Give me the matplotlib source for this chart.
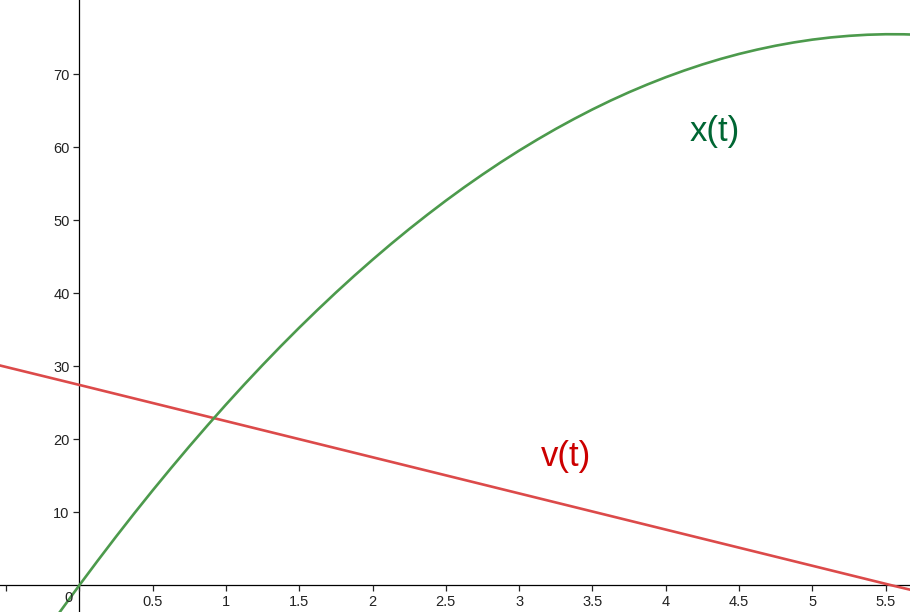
import numpy as np
import matplotlib.pyplot as plt

# values
t_pos = [-0.25, -0.125, 0, 0.125, 0.25, 0.375, 0.5, 0.625, 0.75, 0.875, 1.0,
         1.125, 1.25, 1.375, 1.5, 1.625, 1.75, 1.875, 2.0, 2.125, 2.25, 2.375,
         2.5, 2.625, 2.75, 2.875, 3.0, 3.125, 3.25, 3.375, 3.5, 3.625, 3.75,
         3.875, 4.0, 4.125, 4.25, 4.375, 4.5, 4.625, 4.75, 4.875, 5.0, 5.125,
         5.25, 5.375, 5.5, 5.625, 5.75]
x_pos = [-6.95, -3.44, 0, 3.36, 6.65, 9.86, 12.99, 16.04, 19.02, 21.92, 24.75,
         27.50, 30.17, 32.77, 35.29, 37.73, 40.10, 42.39, 44.60, 46.74, 48.80,
         50.78, 52.69, 54.52, 56.27, 57.95, 59.55, 61.07, 62.52, 63.89, 65.19,
         66.41, 67.55, 68.61, 69.60, 70.51, 71.35, 72.11, 72.79, 73.39, 73.92,
         74.37, 74.75, 75.05, 75.27, 75.42, 75.49, 75.48, 75.40]

t_vel = [-0.6, 0, 5.54, 5.75]
v_vel = [30.4, 27.45, 0, -1.0]

xticks = [-0.5, 0, 0.5, 1, 1.5, 2, 2.5, 3, 3.5, 4, 4.5, 5, 5.5]
xtick_labels = ['', '', '0.5', '1', '1.5', '2', '2.5', '3', '3.5', '4', '4.5', '5', '5.5']
yticks = [10, 20, 30, 40, 50, 60, 70]

plt.rcParams['font.family'] = ['Liberation Sans', 'DejaVu Sans']

fig = plt.figure(figsize=(9.1, 6.12), dpi=100)
ax = fig.add_axes([0, 0, 1, 1])
ax.set_xlim(-0.541, 5.666)
ax.set_ylim(-3.66, 80.18)

ax.plot(t_vel, v_vel, color='#dc4a4a', lw=1.9, solid_capstyle='butt')
ax.plot(t_pos, x_pos, color='#4c9a4c', lw=1.9, solid_capstyle='butt',
        solid_joinstyle='round')

for s in ['top', 'right']:
    ax.spines[s].set_visible(False)
ax.spines['left'].set_position(('data', 0))
ax.spines['bottom'].set_position(('data', 0))
for s in ['left', 'bottom']:
    ax.spines[s].set_linewidth(0.9)
    ax.spines[s].set_zorder(1)

ax.set_xticks(xticks)
ax.set_xticklabels(xtick_labels)
ax.set_yticks(yticks)
ax.tick_params(direction='out', length=4, width=0.9, pad=3, labelsize=10.5,
               colors='#222222')
ax.text(-0.077, -1.74, '0', fontsize=10.5, color='#222222', ha='center', va='center')

ax.text(4.336, 62.1, 'x(t)', fontsize=25, color='#006633', ha='center', va='center')
ax.text(3.32, 17.6, 'v(t)', fontsize=25, color='#cc0000', ha='center', va='center')

fig.savefig('out.png', dpi=100)
